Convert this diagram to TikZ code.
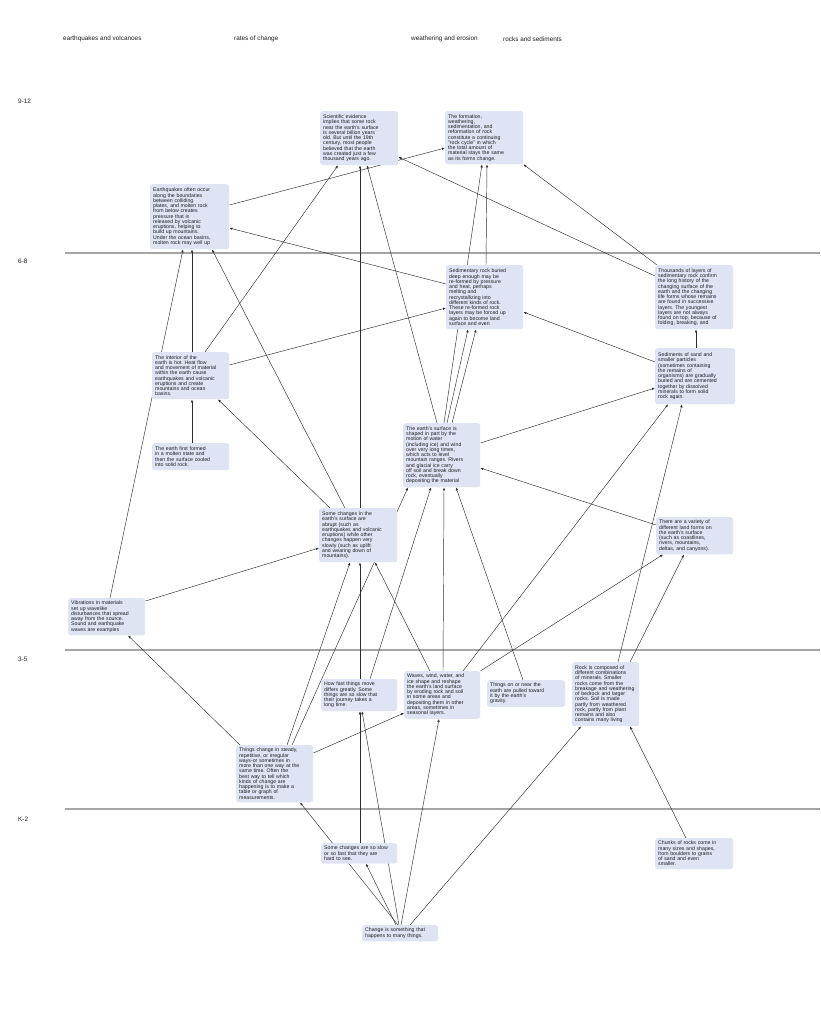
\documentclass[tikz,border=0pt]{standalone}
\usepackage{fontspec}
\setmainfont{Liberation Sans}
\usetikzlibrary{arrows.meta}
\definecolor{boxfill}{RGB}{222,228,244}
\definecolor{linkgray}{RGB}{45,45,45}
\definecolor{bandgray}{RGB}{165,165,165}
\definecolor{textgray}{RGB}{30,30,30}
\pgfdeclarelayer{back}
\pgfsetlayers{back,main}
\frenchspacing
\hyphenpenalty=10000

\begin{document}
\begin{tikzpicture}[x=1pt, y=-1pt, >={Latex[length=3pt,width=2.4pt]},
    concept/.style={fill=boxfill, rounded corners=2.5pt, anchor=north west, align=left, inner sep=3pt, text=textgray, font=\fontsize{5.2}{5.25}\selectfont},
    heading/.style={anchor=west, inner sep=0pt, text=textgray, font=\fontsize{6.4}{7}\selectfont},
    link/.style={->, draw=linkgray, line width=0.45pt},
    band/.style={draw=bandgray, line width=1.8pt}]
    \useasboundingbox (0,0) rectangle (820,1034);

    \node (hquakes) [heading] at (63,39) {earthquakes and volcanoes};
    \node (hrates) [heading] at (234,39) {rates of change};
    \node (hweather) [heading] at (411,39) {weathering and erosion};
    \node (hrocks) [heading] at (503,39) {rocks and sediments};
    \node (g912) [heading] at (18,101) {9-12};
    \node (g68) [heading] at (18,261) {6-8};
    \node (g35) [heading] at (18,659) {3-5};
    \node (gk2) [heading] at (18,819) {K-2};

    \node (evidence) [concept, text width=72pt, minimum height=54pt] at (320,111) {Scientific evidence\\implies that some rock\\near the earth's surface\\is several billion years\\old. But until the 19th\\century, most people\\believed that the earth\\was created just a few\\thousand years ago.};
    \node (cycle) [concept, text width=72pt, minimum height=53pt] at (445,111) {The formation,\\weathering,\\sedimentation, and\\reformation of rock\\constitute a continuing\\``rock cycle'' in which\\the total amount of\\material stays the same\\as its forms change.};
    \node (quakes) [concept, text width=73pt, minimum height=65pt] at (150,184) {Earthquakes often occur\\along the boundaries\\between colliding\\plates, and molten rock\\from below creates\\pressure that is\\released by volcanic\\eruptions, helping to\\build up mountains.\\Under the ocean basins,\\molten rock may well up};
    \node (sedrock) [concept, text width=71pt, minimum height=64pt] at (446,265) {Sedimentary rock buried\\deep enough may be\\re-formed by pressure\\and heat, perhaps\\melting and\\recrystallizing into\\different kinds of rock.\\These re-formed rock\\layers may be forced up\\again to become land\\surface and even};
    \node (layers) [concept, text width=72pt, minimum height=64pt] at (655,265) {Thousands of layers of\\sedimentary rock confirm\\the long history of the\\changing surface of the\\earth and the changing\\life forms whose remains\\are found in successive\\layers. The youngest\\layers are not always\\found on top, because of\\folding, breaking, and};
    \node (interior) [concept, text width=71pt, minimum height=47pt] at (152,352) {The interior of the\\earth is hot. Heat flow\\and movement of material\\within the earth cause\\earthquakes and volcanic\\eruptions and create\\mountains and ocean\\basins.};
    \node (molten) [concept, text width=71pt, minimum height=27pt] at (152,443) {The earth first formed\\in a molten state and\\then the surface cooled\\into solid rock.};
    \node (sediments) [concept, text width=74pt, minimum height=56pt] at (655,348) {Sediments of sand and\\smaller particles\\(sometimes containing\\the remains of\\organisms) are gradually\\buried and are cemented\\together by dissolved\\minerals to form solid\\rock again.};
    \node (surface) [concept, text width=71pt, minimum height=64pt] at (403,423) {The earth's surface is\\shaped in part by the\\motion of water\\(including ice) and wind\\over very long times,\\which acts to level\\mountain ranges. Rivers\\and glacial ice carry\\off soil and break down\\rock, eventually\\depositing the material};
    \node (abrupt) [concept, text width=72pt, minimum height=54pt] at (319,508) {Some changes in the\\earth's surface are\\abrupt (such as\\earthquakes and volcanic\\eruptions) while other\\changes happen very\\slowly (such as uplift\\and wearing down of\\mountains).};
    \node (landforms) [concept, text width=71pt, minimum height=36pt] at (656,517) {There are a variety of\\different land forms on\\the earth's surface\\(such as coastlines,\\rivers, mountains,\\deltas, and canyons).};
    \node (vibrations) [concept, text width=71pt, minimum height=35pt] at (68,598) {Vibrations in materials\\set up wavelike\\disturbances that spread\\away from the source.\\Sound and earthquake\\waves are examples};
    \node (howfast) [concept, text width=70pt, minimum height=29pt] at (321,679) {How fast things move\\differs greatly. Some\\things are so slow that\\their journey takes a\\long time.};
    \node (waves) [concept, text width=70pt, minimum height=47pt] at (404,671) {Waves, wind, water, and\\ice shape and reshape\\the earth's land surface\\by eroding rock and soil\\in some areas and\\depositing them in other\\areas, sometimes in\\seasonal layers.};
    \node (gravity) [concept, text width=72pt, minimum height=25pt] at (487,680) {Things on or near the\\earth are pulled toward\\it by the earth's\\gravity.};
    \node (rockmix) [concept, text width=61pt, minimum height=64pt] at (572,662) {Rock is composed of\\different combinations\\of minerals. Smaller\\rocks come from the\\breakage and weathering\\of bedrock and larger\\rocks. Soil is made\\partly from weathered\\rock, partly from plant\\remains and also\\contains many living};
    \node (steady) [concept, text width=71pt, minimum height=57pt] at (236,745) {Things change in steady,\\repetitive, or irregular\\ways-or sometimes in\\more than one way at the\\same time. Often the\\best way to tell which\\kinds of change are\\happening is to make a\\table or graph of\\measurements.};
    \node (slowfast) [concept, text width=70pt, minimum height=20pt] at (321,843) {Some changes are so slow\\or so fast that they are\\hard to see.};
    \node (chunks) [concept, text width=72pt, minimum height=29pt] at (655,838) {Chunks of rocks come in\\many sizes and shapes,\\from boulders to grains\\of sand and even\\smaller.};
    \node (change) [concept, text width=70pt, minimum height=16pt] at (362,925) {Change is something that\\happens to many things.};

    \begin{pgfonlayer}{back}
    \fill[white] (0,0) rectangle (820,1034);
    \draw[band] (65,253) -- (820,253);
    \draw[band] (65,650) -- (820,650);
    \draw[band] (65,809) -- (820,809);

    \draw[link] ([yshift=-21pt]quakes.north east) -- ([yshift=-37pt]cycle.north west);
    \draw[link] ([yshift=-11pt]layers.north west) -- ([yshift=-46pt]evidence.north east);
    \draw[link] ([xshift=2pt]layers.north west) -- (cycle.south east);
    \draw[link] ([yshift=-19pt]sedrock.north west) -- ([yshift=-44pt]quakes.north east);
    \draw[link] ([yshift=-13pt]interior.north east) -- ([yshift=-43pt]sedrock.north west);
    \draw[link] ([xshift=53pt]interior.north west) -- ([xshift=18pt]evidence.south west);
    \draw[link] ([xshift=41pt]abrupt.north west) -- ([xshift=40pt]evidence.south west);
    \draw[link] ([xshift=34pt]surface.north west) -- ([xshift=47pt]evidence.south west);
    \draw[link] ([xshift=41pt]surface.north west) -- ([xshift=37pt]cycle.south west);
    \draw[link] ([xshift=40pt]sedrock.north west) -- ([xshift=42pt]cycle.south west);
    \draw[link] ([xshift=44pt]surface.north west) -- ([xshift=22pt]sedrock.south west);
    \draw[link] ([xshift=49pt]surface.north west) -- ([xshift=30pt]sedrock.south west);
    \draw[link] ([yshift=-14pt]sediments.north west) -- ([yshift=-47pt]sedrock.north east);
    \draw[link] ([yshift=-20pt]surface.north east) -- ([yshift=-40pt]sediments.north west);
    \draw[link] ([yshift=-8pt]landforms.north west) -- ([yshift=-45pt]surface.north east);
    \draw[link] ([xshift=41pt]sediments.north west) -- ([xshift=41pt]layers.south west);
    \draw[link] ([xshift=59pt]waves.north west) -- ([xshift=13pt]sediments.south west);
    \draw[link] ([xshift=46pt]rockmix.north west) -- ([xshift=27pt]sediments.south west);
    \draw[link] ([xshift=58pt]rockmix.north west) -- ([xshift=28pt]landforms.south west);
    \draw[link] (waves.north east) -- ([xshift=7pt]landforms.south west);
    \draw[link] ([xshift=26pt]waves.north west) -- ([xshift=56pt]abrupt.south west);
    \draw[link] ([xshift=39pt]waves.north west) -- ([xshift=41pt]surface.south west);
    \draw[link] ([xshift=36pt]gravity.north west) -- ([xshift=53pt]surface.south west);
    \draw[link] ([xshift=49pt]howfast.north west) -- ([xshift=28pt]surface.south west);
    \draw[link] ([xshift=56pt]steady.north west) -- ([xshift=5pt]surface.south west);
    \draw[link] ([xshift=39pt]howfast.north west) -- ([xshift=41pt]abrupt.south west);
    \draw[link] ([xshift=51pt]steady.north west) -- ([xshift=31pt]abrupt.south west);
    \draw[link] ([yshift=-3pt]vibrations.north east) -- ([yshift=-40pt]abrupt.north west);
    \draw[link] ([xshift=42pt]vibrations.north west) -- ([xshift=33pt]quakes.south west);
    \draw[link] ([xshift=40pt]interior.north west) -- ([xshift=42pt]quakes.south west);
    \draw[link] ([xshift=26pt]abrupt.north west) -- ([xshift=62pt]quakes.south west);
    \draw[link] ([xshift=11pt]abrupt.north west) -- ([xshift=66pt]interior.south west);
    \draw[link] ([xshift=40pt]molten.north west) -- ([xshift=40pt]interior.south west);
    \draw[link] ([xshift=4pt]steady.north west) -- ([xshift=60pt]vibrations.south west);
    \draw[link] ([yshift=-8pt]steady.north east) -- ([yshift=-42pt]waves.north west);
    \draw[link] ([xshift=36pt]change.north west) -- ([xshift=64pt]steady.south west);
    \draw[link] ([xshift=34pt]change.north west) -- ([xshift=45pt]slowfast.south west);
    \draw[link] ([xshift=37pt]change.north west) -- ([xshift=41pt]howfast.south west);
    \draw[link] ([xshift=39pt]change.north west) -- ([xshift=35pt]waves.south west);
    \draw[link] ([xshift=48pt]change.north west) -- ([xshift=9pt]rockmix.south west);
    \draw[link] ([xshift=39pt]slowfast.north west) -- ([xshift=39pt]howfast.south west);
    \draw[link] ([xshift=31pt]chunks.north west) -- ([xshift=58pt]rockmix.south west);
    \end{pgfonlayer}
\end{tikzpicture}
\end{document}
